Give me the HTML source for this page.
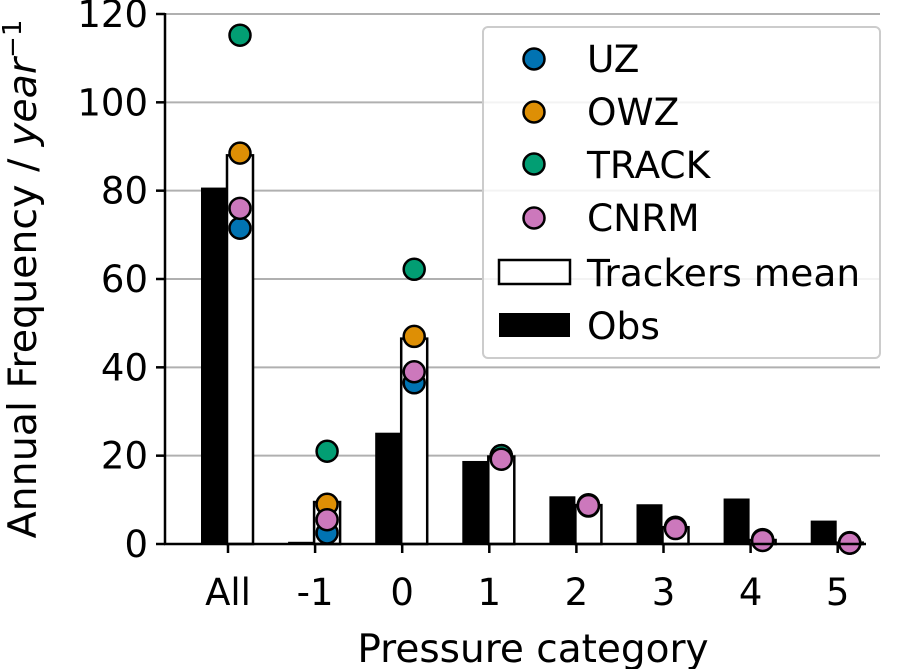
<!DOCTYPE html>
<html><head><meta charset="utf-8"><style>
html,body{margin:0;padding:0;background:#fff;}
svg{display:block;font-family:"DejaVu Sans","Liberation Sans",sans-serif;}
</style></head><body>
<svg id="chart" width="902" height="669"></svg>
<script>
const categories = ["All","-1","0","1","2","3","4","5"];
const obsValues = [80.7,0.5,25.2,18.8,10.8,9.0,10.3,5.3];
const meanValues = [88.0,9.5,46.5,19.8,8.8,3.8,0.9,0.3];
const uzValues = [71.5,2.5,36.5,20.0,8.6,3.6,0.9,0.2];
const owzValues = [88.5,9.0,47.0,19.8,8.9,3.7,0.9,0.2];
const trackValues = [115.2,21.0,62.2,20.0,8.8,3.8,1.0,0.3];
const cnrmValues = [76.0,5.5,39.0,19.2,8.7,3.5,0.8,0.2];
const yTicks = [0,20,40,60,80,100,120];

const NS="http://www.w3.org/2000/svg";
const svg=document.getElementById('chart');
function mk(tag,attrs,parent){const e=document.createElementNS(NS,tag);for(const k in attrs)e.setAttribute(k,attrs[k]);(parent||svg).appendChild(e);return e;}
const y0=544, pxPer=530/120;
function yScale(v){return y0-v*pxPer;}
function xScale(i){return 228+i*87.1;}

yTicks.forEach(t=>{
  if(t>0){const g=mk('line',{x1:165,x2:880,y1:yScale(t),y2:yScale(t),stroke:'#b0b0b0','stroke-width':2});
  
  }
  const tk=mk('line',{x1:156,x2:165,y1:yScale(t),y2:yScale(t),stroke:'#000','stroke-width':2.5});
  
  
  const tl=mk('text',{x:148,y:yScale(t)+13,'text-anchor':'end','font-size':37});
  tl.textContent=t;
  
  
});
categories.forEach((c,i)=>{
  const cx=xScale(i);
  const ob=mk('rect',{x:cx-27,y:yScale(obsValues[i]),width:26,height:obsValues[i]*pxPer,fill:'#000'});
  
  
  const mb=mk('rect',{x:cx-1,y:yScale(meanValues[i]),width:26,height:meanValues[i]*pxPer,fill:'#fff',stroke:'#000','stroke-width':2.5});
  
  
  const tk=mk('line',{x1:cx,x2:cx,y1:544,y2:553,stroke:'#000','stroke-width':2.5});
  
  
  const tl=mk('text',{x:cx,y:605,'text-anchor':'middle','font-size':37});
  tl.textContent=c;
  
  
});
const series=[[uzValues,'#0173b2','uz'],[owzValues,'#de8f05','owz'],[trackValues,'#029e73','track'],[cnrmValues,'#cc78bc','cnrm']];
series.forEach(s=>{
  s[0].forEach((v,i)=>{
    const p=mk('circle',{cx:xScale(i)+12,cy:yScale(v),r:10.5,fill:s[1],stroke:'#000','stroke-width':2.5});
    
    
  });
});
const ls=mk('line',{x1:165,x2:165,y1:13,y2:545,stroke:'#000','stroke-width':2.5});


const bs=mk('line',{x1:164,x2:866,y1:544,y2:544,stroke:'#000','stroke-width':2.5});


</script>
<svg style="position:absolute;left:0;top:0" width="902" height="669">
<text x="533" y="662" text-anchor="middle" font-size="39" font-family="DejaVu Sans, Liberation Sans, sans-serif">Pressure category</text>
<text transform="translate(36,279) rotate(-90)" text-anchor="middle" font-size="39.5" font-family="DejaVu Sans, Liberation Sans, sans-serif">Annual Frequency / <tspan font-style="italic">year</tspan><tspan font-size="26" dy="-15">−1</tspan></text>
<g font-family="DejaVu Sans, Liberation Sans, sans-serif" font-size="37.5">
<rect x="483" y="27" width="397" height="331" rx="5" fill="#fff" fill-opacity="0.85" stroke="#ccc" stroke-width="2"/>
<circle cx="534" cy="59" r="10.5" fill="#0173b2" stroke="#000" stroke-width="2.5"/>
<text x="587" y="72">UZ</text>
<circle cx="534" cy="112" r="10.5" fill="#de8f05" stroke="#000" stroke-width="2.5"/>
<text x="587" y="125">OWZ</text>
<circle cx="534" cy="164" r="10.5" fill="#029e73" stroke="#000" stroke-width="2.5"/>
<text x="587" y="178">TRACK</text>
<circle cx="534" cy="218" r="10.5" fill="#cc78bc" stroke="#000" stroke-width="2.5"/>
<text x="587" y="231">CNRM</text>
<rect x="499" y="260" width="71" height="24" fill="#fff" stroke="#000" stroke-width="2.5"/>
<text x="587" y="286">Trackers mean</text>
<rect x="499" y="313" width="71" height="24" fill="#000"/>
<text x="587" y="339">Obs</text>
</g>
</svg>
</body></html>
